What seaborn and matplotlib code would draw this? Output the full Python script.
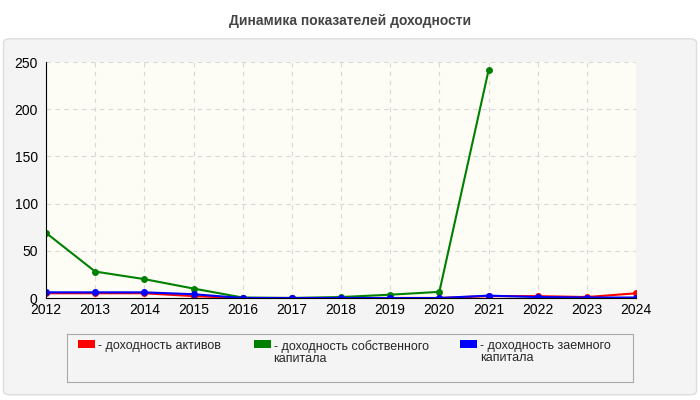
import matplotlib
matplotlib.use("Agg")
import matplotlib.pyplot as plt
import seaborn as sns
import pandas as pd
import numpy as np
from matplotlib.patches import FancyBboxPatch

years = list(range(2012, 2025))
assets = [5, 5, 5, 2, 0, 0, 0, 0, 0, 2, 2, 1, 5]
equity = [69, 28, 20, 10, 0.5, 0, 1, 3.5, 6.5, 241, np.nan, np.nan, np.nan]
debt = [6, 6, 6, 4, 0, 0, 0, 0, 0, 2.5, 1, 0.5, 0.5]
labels = ["- доходность активов", "- доходность собственного\nкапитала", "- доходность заемного\nкапитала"]
colors = ["#ff0000", "#008000", "#0000ff"]

sns.set_style("white")
plt.rcParams['font.family'] = ['Liberation Sans', 'DejaVu Sans']
fig = plt.figure(figsize=(7, 4), dpi=100)
fig.patch.set_facecolor("white")
fig.patches.append(FancyBboxPatch((0.005, 0.013), 0.99, 0.89, boxstyle="round,pad=0,rounding_size=0.01",
                                  transform=fig.transFigure, facecolor="#f4f4f4", edgecolor="#dddddd", zorder=-10))
fig.text(0.5, 0.948, "Динамика показателей доходности", ha="center", va="center", fontsize=10, fontweight="bold", color="#444444")
ax = fig.add_axes([46/700, 1-298/400, 590/700, 236/400])
ax.set_facecolor("#fdfdf6")
for vals, c in zip([assets, equity, debt], colors):
    sns.lineplot(x=years, y=vals, color=c, marker="o", markersize=5,
                 markeredgewidth=0, linewidth=1.5, ax=ax, legend=False)
ax.set_xlim(2012, 2024)
ax.set_ylim(0, 250)
ax.set_xticks(years)
ax.set_yticks([0, 50, 100, 150, 200, 250])
ax.grid(True, linestyle=(0, (4, 4)), color="#d8d8d8", linewidth=0.8)
ax.set_xlabel("")
ax.set_ylabel("")
ax.tick_params(labelsize=10, length=0, colors="black")
ax.tick_params(axis="y", pad=6)
for s in ["top", "right"]:
    ax.spines[s].set_visible(False)
ax.spines["left"].set_color("black")
ax.spines["bottom"].set_color("black")

lax = fig.add_axes([67/700, 1-382/400, 566/700, 48/400])
lax.set_xlim(0, 1); lax.set_ylim(0, 1)
lax.set_xticks([]); lax.set_yticks([])
lax.set_facecolor("#f4f4f4")
for s in lax.spines.values():
    s.set_color("#aaaaaa")
xs = [0.02, 0.33, 0.695]
for x0, lab, c in zip(xs, labels, colors):
    lax.add_patch(plt.Rectangle((x0, 0.7), 0.03, 0.17, facecolor=c, edgecolor="none"))
    lax.text(x0 + 0.035, 0.87, lab, va="top", ha="left", fontsize=9, linespacing=0.95)
fig.savefig("out.png", dpi=100)
